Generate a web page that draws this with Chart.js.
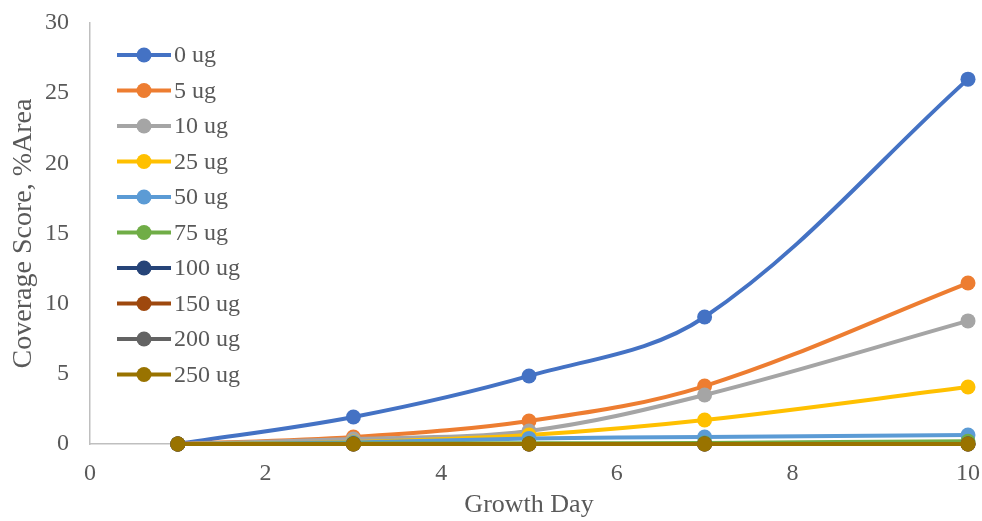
<!DOCTYPE html>
<html>
<head>
<meta charset="utf-8">
<script src="https://cdn.jsdelivr.net/npm/chart.js@4"></script>
<style>
  html, body { margin: 0; padding: 0; background: #ffffff; }
  #wrap { width: 982px; height: 521px; position: relative; }
</style>
</head>
<body>
<div id="wrap"><canvas id="c"></canvas></div>
<script>
// Growth days sampled
const days = [1, 3, 5, 7, 10];

// Coverage score (% area) per dose
const series = ['0 ug', '5 ug', '10 ug', '25 ug', '50 ug', '75 ug', '100 ug', '150 ug', '200 ug', '250 ug'];
const cov0   = [0, 1.92, 4.85, 9.05, 26.0];
const cov5   = [0, 0.50, 1.64, 4.13, 11.47];
const cov10  = [0, 0.36, 0.93, 3.49, 8.77];
const cov25  = [0, 0.15, 0.64, 1.71, 4.06];
const cov50  = [0, 0.10, 0.40, 0.50, 0.64];
const cov75  = [0, 0.03, 0.05, 0.08, 0.20];
const cov100 = [0, 0, 0, 0, 0];
const cov150 = [0, 0, 0, 0, 0];
const cov200 = [0, 0, 0, 0, 0];
const cov250 = [0, 0, 0, 0, 0];

const xTicks = [0, 2, 4, 6, 8, 10];
const yTicks = [0, 5, 10, 15, 20, 25, 30];

const colors = ['#4472C4', '#ED7D31', '#A5A5A5', '#FFC000', '#5B9BD5', '#70AD47', '#264478', '#9E480E', '#636363', '#997300'];
const values = [cov0, cov5, cov10, cov25, cov50, cov75, cov100, cov150, cov200, cov250];

const FONT = '"Liberation Serif", "Times New Roman", serif';
const TEXT = '#595959';

const datasets = series.map((name, i) => ({
  label: name,
  data: days.map((d, k) => ({ x: d, y: values[i][k] })),
  borderColor: colors[i],
  backgroundColor: colors[i],
  borderWidth: 4,
  pointRadius: 7.5,
  pointHoverRadius: 7.5,
  pointBorderWidth: 0,
  tension: 0.35,
  clip: false,
  order: series.length - i
}));

// Legend drawn inside the plot area, top-left
const insideLegend = {
  id: 'insideLegend',
  afterDraw(chart) {
    const ctx = chart.ctx;
    const area = chart.chartArea;
    const x0 = area.left + 27;
    const y0 = area.top + 32;
    const step = 35.5;
    ctx.save();
    ctx.font = '24px ' + FONT;
    ctx.textBaseline = 'middle';
    ctx.textAlign = 'left';
    chart.data.datasets.forEach((ds, i) => {
      const y = y0 + i * step;
      ctx.strokeStyle = ds.borderColor;
      ctx.lineWidth = 4;
      ctx.beginPath();
      ctx.moveTo(x0, y);
      ctx.lineTo(x0 + 54, y);
      ctx.stroke();
      ctx.fillStyle = ds.borderColor;
      ctx.beginPath();
      ctx.arc(x0 + 27, y, 7.5, 0, Math.PI * 2);
      ctx.fill();
      ctx.fillStyle = TEXT;
      ctx.fillText(ds.label, x0 + 57, y + 1);
    });
    ctx.restore();
  }
};

new Chart(document.getElementById('c'), {
  type: 'line',
  data: { datasets },
  plugins: [insideLegend],
  options: {
    responsive: true,
    maintainAspectRatio: false,
    animation: false,
    layout: { padding: { top: 23, right: 14, left: 0, bottom: 0 } },
    plugins: { legend: { display: false }, tooltip: { enabled: false } },
    scales: {
      x: {
        type: 'linear',
        min: 0, max: 10,
        afterBuildTicks: s => { s.ticks = xTicks.map(v => ({ value: v })); },
        afterFit: s => { s.height = 77; s.paddingLeft = 0; s.paddingRight = 0; },
        grid: { display: false, drawTicks: false },
        border: { display: true, color: '#BFBFBF', width: 1.5 },
        ticks: { color: TEXT, font: { family: FONT, size: 24 }, padding: 15, maxRotation: 0 },
        title: { display: true, text: 'Growth Day', color: TEXT, font: { family: FONT, size: 26 }, padding: { top: 4, bottom: 0 } }
      },
      y: {
        type: 'linear',
        min: 0, max: 30,
        afterBuildTicks: s => { s.ticks = yTicks.map(v => ({ value: v })); },
        afterFit: s => { s.width = 90; s.paddingTop = 0; s.paddingBottom = 0; },
        grid: { display: false, drawTicks: false },
        border: { display: true, color: '#BFBFBF', width: 1.5 },
        ticks: { color: TEXT, font: { family: FONT, size: 24 }, padding: 21 },
        title: { display: true, text: 'Coverage Score, %Area', color: TEXT, font: { family: FONT, size: 28 }, padding: { top: 7, bottom: 0 } }
      }
    }
  }
});
</script>
</body>
</html>
